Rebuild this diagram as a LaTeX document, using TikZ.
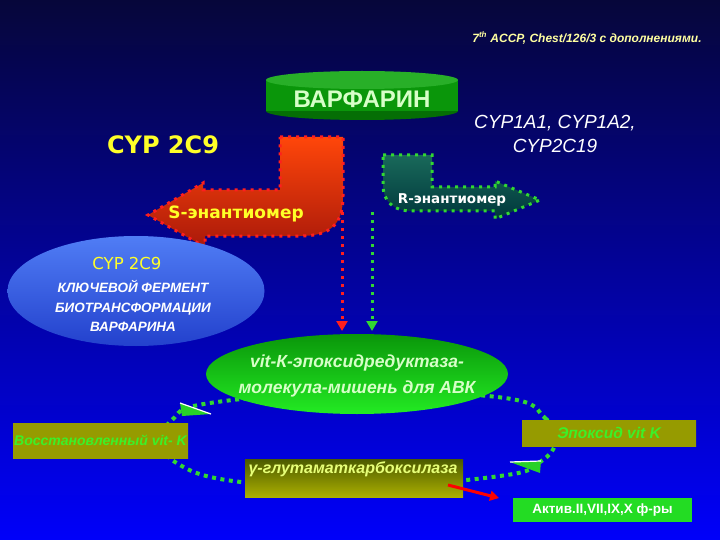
\documentclass[tikz,border=0pt]{standalone}
\usepackage{fontspec}
\setmainfont{Liberation Sans}
\newfontfamily\comic{DejaVu Sans}
\usetikzlibrary{arrows.meta,shapes.geometric}
\definecolor{bgtop}{RGB}{6,6,58}
\definecolor{bgbot}{RGB}{0,0,250}
\definecolor{citec}{RGB}{255,255,160}
\definecolor{cyly}{RGB}{255,255,40}
\definecolor{dotgreen}{RGB}{50,215,50}
\definecolor{dotred}{RGB}{255,30,30}
\definecolor{cylbody}{RGB}{10,150,10}
\definecolor{cyltop}{RGB}{40,175,40}
\definecolor{cylbot}{RGB}{5,110,5}
\definecolor{redtop}{RGB}{255,70,10}
\definecolor{redbot}{RGB}{170,25,10}
\definecolor{tealtop}{RGB}{25,105,90}
\definecolor{tealbot}{RGB}{0,55,60}
\definecolor{bluetop}{RGB}{80,125,245}
\definecolor{bluebot}{RGB}{35,65,205}
\definecolor{gtop}{RGB}{10,150,10}
\definecolor{gbot}{RGB}{35,235,35}
\definecolor{gtext}{RGB}{215,255,200}
\definecolor{olivelt}{RGB}{150,155,0}
\definecolor{olivedk}{RGB}{75,90,0}
\definecolor{boxtext}{RGB}{60,240,40}
\definecolor{trig}{RGB}{40,210,40}
\definecolor{activ}{RGB}{35,220,35}
\tikzset{
  dotline/.style={line width=3pt, dash pattern=on 3pt off 5pt},
  cyclebox/.style={rectangle, inner sep=0pt, minimum width=176pt, minimum height=30pt,
     top color=olivelt, middle color=olivedk, bottom color=olivelt,
     text=boxtext, font=\bfseries\itshape\fontsize{14}{16}\selectfont},
}
\begin{document}
\begin{tikzpicture}[x=1pt,y=-1pt]
\shade[top color=bgtop,bottom color=bgbot] (0,0) rectangle (720,540);
\useasboundingbox (0,0) rectangle (720,540);

% citation
\node[text=citec,font=\bfseries\itshape\fontsize{12}{14}\selectfont] (cite) at (587,38)
  {7\textsuperscript{th} ACCP, Chest/126/3 с дополнениями.};

% warfarin cylinder
\fill[cylbot] (362,111) ellipse [x radius=96, y radius=9];
\fill[cylbody] (266,80) rectangle (458,111);
\fill[cyltop] (362,80) ellipse [x radius=96, y radius=9];
\node[text=gtext, font=\bfseries\fontsize{24}{26}\selectfont] (war) at (362,99) {ВАРФАРИН};

% CYP labels
\node[text=cyly, font=\comic\bfseries\fontsize{24}{26}\selectfont] (cyp2c9) at (163,145) {CYP 2C9};
\node[text=white, font=\itshape\fontsize{19}{24}\selectfont, align=center] (cyp1a) at (555,134)
  {CYP1A1, CYP1A2,\\CYP2C19};

% red bent arrow (S)
\path[draw=dotred, dotline, top color=redtop, bottom color=redbot]
  (280,137) -- (343,137) -- (343,196) .. controls (343,225) and (330,236) .. (300,236)
  -- (205,236) -- (205,247) -- (148,215) -- (203,183) -- (203,190) -- (280,190) -- cycle;
\node[text=cyly, font=\comic\bfseries\fontsize{17}{19}\selectfont] (sen) at (236,214) {S-энантиомер};

% green bent arrow (R)
\path[draw=dotgreen, dotline, top color=tealtop, bottom color=tealbot]
  (383,155) -- (432,155) -- (432,187) -- (495,187) -- (495,181) -- (540,200) -- (495,219)
  -- (495,211) -- (412,211) .. controls (392,211) and (383,200) .. (383,185) -- cycle;
\node[text=white, font=\comic\bfseries\fontsize{13.5}{15}\selectfont] (ren) at (452,200) {R-энантиомер};

% vertical dotted arrows
\coordinate (rs) at (342,212); \coordinate (re) at (342,331);
\coordinate (gs) at (372,212); \coordinate (ge) at (372,331);
\draw[dotred, dotline, -{Triangle[length=10pt,width=11pt]}] (rs) -- (re);
\draw[dotgreen, dotline, -{Triangle[length=10pt,width=11pt]}] (gs) -- (ge);

% blue ellipse
\node[ellipse, inner sep=0pt, minimum width=257pt, minimum height=110pt,
      top color=bluetop, bottom color=bluebot] (key) at (136,291) {};
\node[text=cyly, font=\comic\fontsize{16.5}{18}\selectfont] (keyc) at (127,263) {CYP 2C9};
\node[text=white, font=\bfseries\itshape\fontsize{13.5}{19.5}\selectfont, align=center] (keyt) at (133,306)
  {КЛЮЧЕВОЙ ФЕРМЕНТ\\БИОТРАНСФОРМАЦИИ\\ВАРФАРИНА};

% dotted cycle
\draw[dotgreen, line width=4pt, dash pattern=on 4pt off 4.5pt]
  plot[smooth cycle, tension=0.7] coordinates {(505,398) (545,418) (556,440) (540,462)
  (500,476) (358,487) (233,481) (175,462) (165,440) (172,420) (210,403) (358,392)};

% green ellipse
\node[ellipse, inner sep=0pt, minimum width=302pt, minimum height=80pt,
      top color=gtop, bottom color=gbot] (vkor) at (357,374) {};
\node[text=gtext, font=\bfseries\itshape\fontsize{17.5}{26}\selectfont, align=center] (vkort) at (357,376)
  {vit-К-эпоксидредуктаза-\\молекула-мишень для АВК};

% triangles
\fill[trig] (180,403) -- (211,414) -- (182,416) -- cycle;
\draw[white, line width=1.2pt] (180,403) -- (211,414);
\fill[trig] (510,462) -- (541,461) -- (540,473) -- cycle;
\draw[white, line width=1.2pt] (510,462) -- (541,461);

% boxes
\node[cyclebox, minimum width=175pt, minimum height=35pt] (red) at (100.5,440.5) {Восстановленный vit- K};
\node[cyclebox, minimum width=174pt, minimum height=26pt, font=\bfseries\itshape\fontsize{15.5}{17}\selectfont] (epo) at (609,433) {Эпоксид vit K};
\node[rectangle, inner sep=0pt, minimum width=218pt, minimum height=38pt,
      top color=olivedk, bottom color=olivelt!80!yellow] (gam) at (354,478) {};
\node[text=gtext!60!yellow, font=\bfseries\itshape\fontsize{16}{18}\selectfont] (gamt) at (353,469) {γ-глутаматкарбоксилаза};

% red small arrow
\coordinate (ra) at (448,485); \coordinate (rb) at (499,498);
\draw[red, line width=3pt, -{Triangle[length=9pt,width=10pt]}] (ra) -- (rb);

% activated factors
\node[rectangle, inner sep=0pt, minimum width=179pt, minimum height=24pt, fill=activ,
      text=white, font=\bfseries\fontsize{13.5}{15}\selectfont] (act) at (602.5,510) {Актив.II,VII,IX,X ф-ры};
\end{tikzpicture}
\end{document}
